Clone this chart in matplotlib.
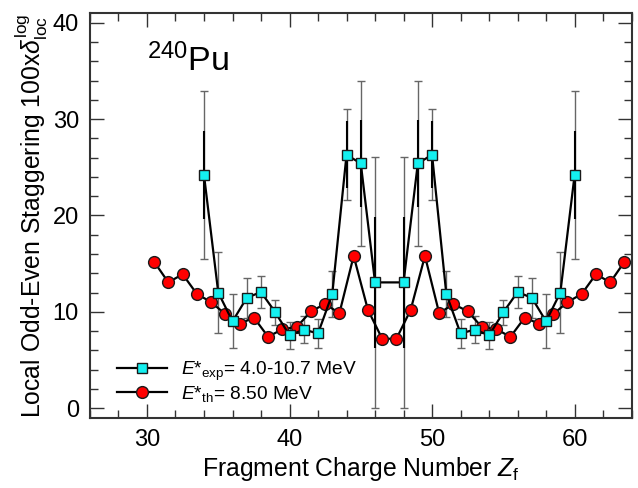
import matplotlib
matplotlib.use('Agg')
import matplotlib.pyplot as plt
from matplotlib.ticker import MultipleLocator

plt.rcParams['font.family'] = ['Liberation Sans', 'DejaVu Sans']
plt.rcParams['mathtext.fontset'] = 'custom'
plt.rcParams['mathtext.rm'] = 'Liberation Sans'
plt.rcParams['mathtext.it'] = 'Liberation Sans:italic'

# experiment (squares)
z_exp = [34, 35, 36, 37, 38, 39, 40, 41, 42, 43, 44, 45, 46,
         48, 49, 50, 51, 52, 53, 54, 55, 56, 57, 58, 59, 60]
y_exp = [24.2, 12.0, 9.0, 11.45, 12.05, 9.95, 7.55, 8.15, 7.75, 11.85, 26.3, 25.4, 13.05,
         13.05, 25.4, 26.3, 11.85, 7.75, 8.15, 7.55, 9.95, 12.05, 11.45, 9.0, 12.0, 24.2]
err_tot = [8.7, 4.2, 2.8, 2.1, 1.7, 1.3, 1.4, 1.4, 1.5, 2.4, 4.7, 8.6, 13.0,
           13.0, 8.6, 4.7, 2.4, 1.5, 1.4, 1.4, 1.3, 1.7, 2.1, 2.8, 4.2, 8.7]
z_inner = [34, 44, 45, 46, 48, 49, 50, 60]
y_inner = [24.2, 26.3, 25.4, 13.05, 13.05, 25.4, 26.3, 24.2]
err_inner = [4.6, 3.5, 4.5, 6.8, 6.8, 4.5, 3.5, 4.6]

# theory (circles)
z_th = [30.5, 31.5, 32.5, 33.5, 34.5, 35.5, 36.5, 37.5, 38.5, 39.5, 40.5, 41.5, 42.5,
        43.5, 44.5, 45.5, 46.5, 47.5, 48.5, 49.5, 50.5, 51.5, 52.5, 53.5, 54.5, 55.5,
        56.5, 57.5, 58.5, 59.5, 60.5, 61.5, 62.5, 63.5]
y_th = [15.2, 13.05, 13.9, 11.85, 11.0, 9.75, 8.75, 9.4, 7.4, 8.2, 8.4, 10.05, 10.8,
        9.85, 15.8, 10.2, 7.2, 7.2, 10.2, 15.8, 9.85, 10.8, 10.05, 8.4, 8.2, 7.4,
        9.4, 8.75, 9.75, 11.0, 11.85, 13.9, 13.05, 15.2]

fig = plt.figure(figsize=(6.38, 4.88), dpi=100)
ax = fig.add_axes([0.141, 0.144, 0.849, 0.829])

ax.errorbar(z_exp, y_exp, yerr=err_tot, fmt='none', ecolor='#666666',
            elinewidth=1.0, capsize=3, capthick=1.0, zorder=2)
ax.errorbar(z_inner, y_inner, yerr=err_inner, fmt='none', ecolor='black',
            elinewidth=1.5, capsize=0, zorder=2)

ax.plot(z_exp, y_exp, '-', color='black', lw=1.6, marker='s', ms=7.5,
        mfc='#14f0f0', mec='#1a1a1a', mew=1.0, zorder=4,
        label=r'$E$*$_{\rm exp}$= 4.0-10.7 MeV')
ax.plot(z_th, y_th, '-', color='black', lw=1.6, marker='o', ms=8.5,
        mfc='#ff0000', mec='#1a1a1a', mew=1.0, zorder=3,
        label=r'$E$*$_{\rm th}$= 8.50 MeV')

ax.set_xlim(26, 64)
ax.set_ylim(-1, 41)
ax.xaxis.set_major_locator(MultipleLocator(10))
ax.xaxis.set_minor_locator(MultipleLocator(2))
ax.yaxis.set_major_locator(MultipleLocator(10))
ax.yaxis.set_minor_locator(MultipleLocator(2))
ax.tick_params(which='both', direction='in', top=True, right=True,
               labelsize=17, color='#333333', width=1.0)
ax.tick_params(which='major', length=10, pad=8)
ax.tick_params(which='minor', length=6)
for s in ax.spines.values():
    s.set_linewidth(1.5)
    s.set_color('#333333')

ax.set_xlabel(r'Fragment Charge Number $Z_{\rm f}$', fontsize=17.8, labelpad=3)
ax.set_ylabel(r'Local Odd-Even Staggering 100x$\delta^{\rm log}_{\rm loc}$',
              fontsize=17.8, labelpad=2)

ax.text(30, 35, r'$^{240}$Pu', fontsize=24.5, ha='left', va='baseline')

ax.legend(loc='lower left', bbox_to_anchor=(0.05, 0.035), frameon=False,
          fontsize=13.8, handlelength=2.6, handletextpad=0.75,
          labelspacing=0.05, borderpad=0.0, borderaxespad=0)

fig.savefig('out.png', dpi=100)
